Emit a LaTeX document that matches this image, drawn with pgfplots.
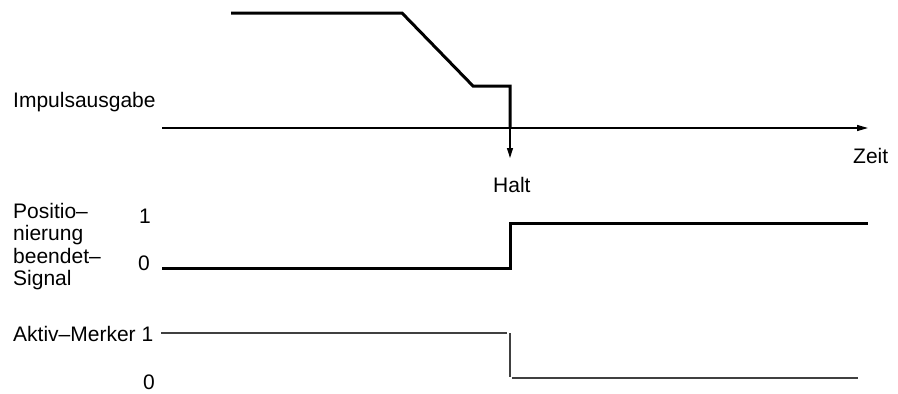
\documentclass[border=0pt]{standalone}
\usepackage{fontspec}
\setmainfont{Liberation Sans}
\usepackage{pgfplots}
\pgfplotsset{compat=1.18}
\usetikzlibrary{arrows.meta}

\begin{document}
\begin{tikzpicture}
\begin{axis}[
    name=td,
    scale only axis,
    width=898pt, height=394pt,
    xmin=0, xmax=898,
    ymin=0, ymax=394,
    y dir=reverse,
    hide axis,
    clip=false,
    every axis plot/.append style={line join=miter, mark=none},
]
% time axis
\addplot[black, line width=1.4pt, -{Triangle[length=11pt,width=6pt]}]
    coordinates {(162,128) (868,128)};
% pulse output
\addplot[black, line width=3pt]
    coordinates {(231,13) (402,13) (473,86) (510,86) (510,128)};
\addplot[black, line width=1.4pt, -{Triangle[length=10pt,width=6pt]}]
    coordinates {(510,128) (510,158)};
% positioning completed signal
\addplot[black, line width=3pt]
    coordinates {(162,268) (510,268) (510,223) (868,223)};
% busy flag
\addplot[black!75, line width=1.3pt] coordinates {(161,333) (507,333)};
\addplot[black!75, line width=1.3pt] coordinates {(510,333) (510,377)};
\addplot[black!75, line width=1.3pt] coordinates {(512,378) (858,378)};

\begin{scope}[every node/.style={anchor=base west, inner sep=0pt, font=\fontsize{21}{22.5}\selectfont}]
\node at (axis cs:13,107) {Impulsausgabe};
\node at (axis cs:853,163) {Zeit};
\node at (axis cs:493,192) {Halt};
\node at (axis cs:13,218) {Positio–};
\node at (axis cs:13,240.5) {nierung};
\node at (axis cs:13,263) {beendet–};
\node at (axis cs:13,285.5) {Signal};
\node at (axis cs:139,223) {1};
\node at (axis cs:138,270) {0};
\node at (axis cs:13,341) {Aktiv–Merker 1};
\node at (axis cs:143,389.5) {0};
\end{scope}
\end{axis}
\pgfresetboundingbox
\path (td.south west) rectangle (td.north east);
\end{tikzpicture}
\end{document}
